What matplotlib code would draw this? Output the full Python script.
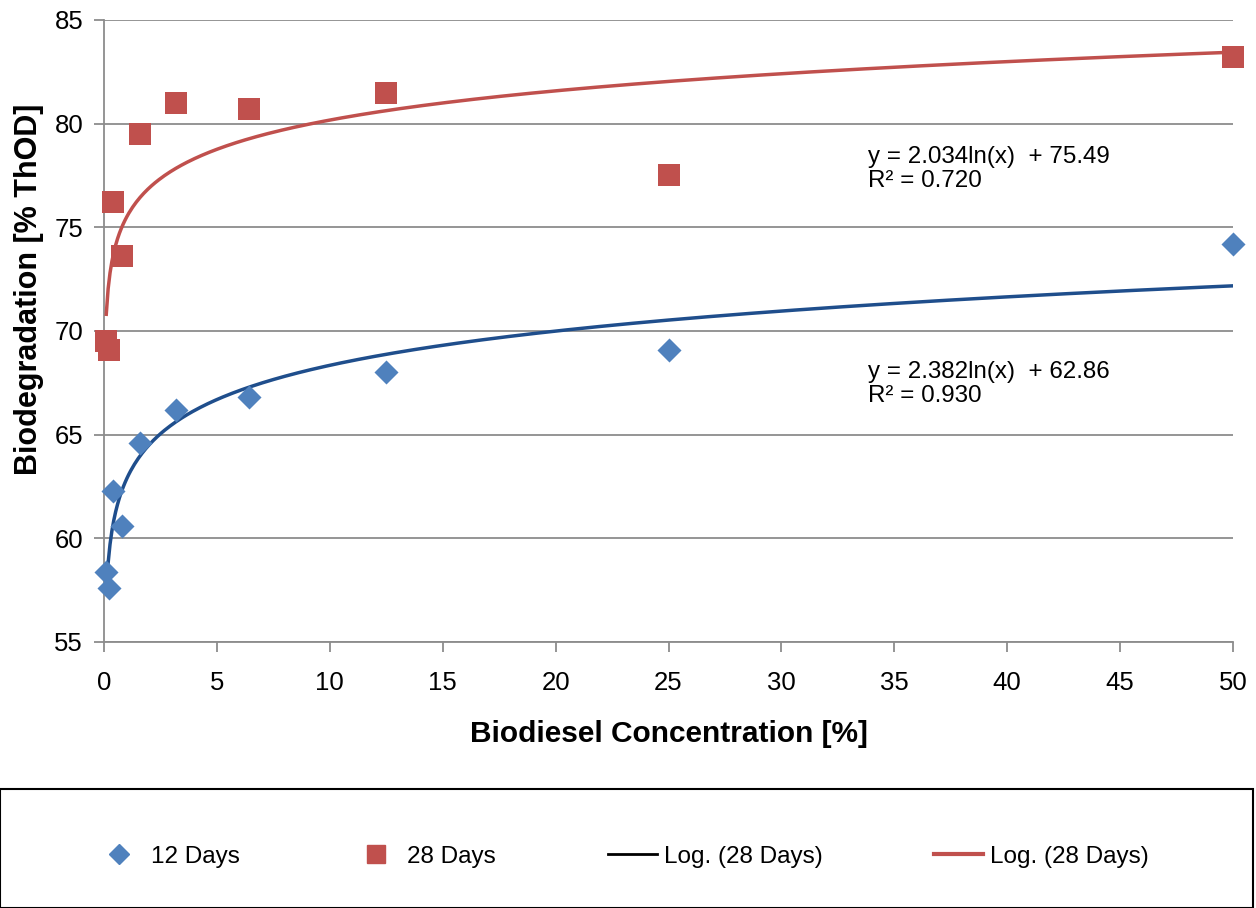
import numpy as np
import matplotlib
matplotlib.use("Agg")
import matplotlib.pyplot as plt
from matplotlib.lines import Line2D
from matplotlib.patches import Rectangle

conc = [0.1, 0.2, 0.4, 0.8, 1.6, 3.2, 6.4, 12.5, 25, 50]
days12 = [58.4, 57.6, 62.3, 60.6, 64.6, 66.2, 66.8, 68.0, 69.1, 74.2]
days28 = [69.5, 69.1, 76.2, 73.6, 79.5, 81.0, 80.7, 81.5, 77.5, 83.2]
fit12 = (2.382, 62.86, 0.930)
fit28 = (2.034, 75.49, 0.720)
xticks = list(range(0, 55, 5))
yticks = list(range(55, 90, 5))

plt.rcParams['font.family'] = ['Liberation Sans', 'DejaVu Sans']

W, H = 1256, 908
fig = plt.figure(figsize=(W/100, H/100), dpi=100)
ax = fig.add_axes([104/W, 1-642/H, (1233-104)/W, (642-20)/H])

red = '#C0504D'
blue = '#4F81BD'
navy = '#1F4E8C'

xf = np.linspace(min(conc), max(conc), 600)
ax.plot(xf, fit28[0]*np.log(xf)+fit28[1], color=red, lw=2.5, zorder=3)
ax.plot(xf, fit12[0]*np.log(xf)+fit12[1], color=navy, lw=2.5, zorder=3)
ax.scatter(conc, days12, marker='D', s=150, color=blue, zorder=4, linewidths=0, clip_on=False)
ax.scatter(conc, days28, marker='s', s=260, color=red, zorder=4, linewidths=0, clip_on=False)

ax.set_xlim(0, 50)
ax.set_ylim(55, 85)
ax.set_xticks(xticks)
ax.set_yticks(yticks)
ax.grid(axis='y', color='#8C8C8C', lw=1.3)
ax.set_axisbelow(True)
for s in ['top', 'right']:
    ax.spines[s].set_visible(False)
for s in ['left', 'bottom']:
    ax.spines[s].set_color('#8C8C8C')
    ax.spines[s].set_linewidth(1.3)
ax.tick_params(axis='both', colors='#8C8C8C', labelcolor='black', labelsize=18.5,
               width=1.3, length=7)
ax.tick_params(axis='x', pad=14)
ax.tick_params(axis='y', pad=8)

ax.set_xlabel('Biodiesel Concentration [%]', fontsize=21.5, fontweight='bold', labelpad=18)
fig.text(29/W, 1-289/H, 'Biodegradation [% ThOD]', fontsize=22, fontweight='bold',
         rotation=90, ha='center', va='center')

fig.text(868/W, 1-169/H, f'y = {fit28[0]:.3f}ln(x)  + {fit28[1]:.2f}\nR² = {fit28[2]:.3f}',
         fontsize=17.4, va='center', ha='left', linespacing=1.15)
fig.text(868/W, 1-384/H, f'y = {fit12[0]:.3f}ln(x)  + {fit12[1]:.2f}\nR² = {fit12[2]:.3f}',
         fontsize=17.4, va='center', ha='left', linespacing=1.15)

# legend box
fig.patches.append(Rectangle((0, 0), 1253/W, 1-789/H, transform=fig.transFigure,
                             fill=False, edgecolor='black', lw=1.5))
handles = [
    Line2D([], [], marker='D', color=blue, ls='none', markersize=10),
    Line2D([], [], marker='s', color=red, ls='none', markersize=13),
    Line2D([], [], color='black', lw=2),
    Line2D([], [], color=red, lw=3),
]
labels = ['12 Days', '28 Days', 'Log. (28 Days)', 'Log. (28 Days)']
fig.legend(handles, labels, loc='center', bbox_to_anchor=(622/W, 1-857/H),
           ncol=4, frameon=False, columnspacing=4.6, handlelength=2.0,
           handletextpad=0.3,
           prop={'family': ['Liberation Sans Narrow', 'Liberation Sans'], 'size': 17.5})

fig.savefig('out.png', dpi=100)
